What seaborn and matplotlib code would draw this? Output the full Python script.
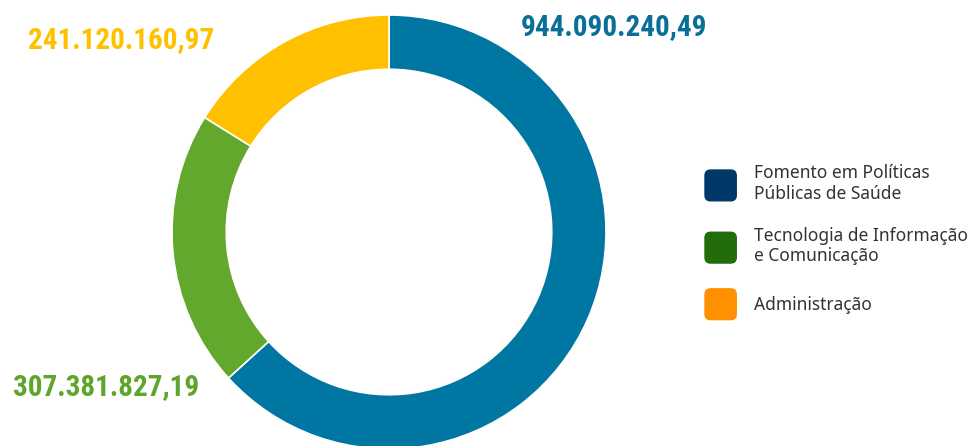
import matplotlib
matplotlib.use("Agg")
import matplotlib.pyplot as plt
import seaborn as sns
from matplotlib import font_manager
from matplotlib.patches import Patch, FancyBboxPatch
from matplotlib.legend_handler import HandlerPatch

# data
categories = ["Fomento em Políticas\nPúblicas de Saúde",
              "Tecnologia de Informação\ne Comunicação",
              "Administração"]
values = [944090240.49, 307381827.19, 241120160.97]
value_labels = ["944.090.240,49", "307.381.827,19", "241.120.160,97"]
slice_colors = ["#0077a2", "#62a82c", "#ffc000"]
legend_colors = ["#00386a", "#236c0a", "#ff9000"]
label_colors = ["#0a6f98", "#5fa52c", "#ffc000"]

sns.set_theme(style="white")

# pick a narrow bold font for the numbers if one is there
names = {f.name for f in font_manager.fontManager.ttflist}
narrow = None
for cand in ["Roboto Condensed", "Liberation Sans Narrow", "Open Sans Condensed", "Noto Sans Condensed"]:
    if cand in names:
        narrow = cand
        break
if narrow is None:
    num_font = dict(family="DejaVu Sans", fontstretch="condensed", fontweight="bold")
else:
    num_font = dict(family=narrow, fontweight="bold")

plt.rcParams['font.family'] = ['Noto Sans', 'DejaVu Sans']

fig = plt.figure(figsize=(9.7, 4.46), dpi=100)
# pie axes: center (389,232) px, radius 217 px
ax = fig.add_axes([(389 - 217) / 970, (214 - 217) / 446, 434 / 970, 434 / 446])
ax.pie(values, colors=slice_colors, startangle=90, counterclock=False,
       radius=1.0, wedgeprops=dict(width=0.25, edgecolor="white", linewidth=1.2))
ax.set_xlim(-1, 1)
ax.set_ylim(-1, 1)
ax.set_aspect("equal")
ax.axis("off")

# value labels (figure pixel positions)
label_pos = [(614, 419), (106, 59), (121, 406)]
for (x, y), txt, c in zip(label_pos, value_labels, label_colors):
    fig.text(x / 970, y / 446, txt, color=c, fontsize=21, ha="center", va="center", **num_font)


def rounded(legend, orig_handle, xdescent, ydescent, width, height, fontsize):
    return FancyBboxPatch((-xdescent, -ydescent), width, height,
                          boxstyle="round,pad=0,rounding_size=4")


handles = [Patch(facecolor=c, edgecolor=c) for c in legend_colors]
leg = fig.legend(handles, categories, loc="center left",
                 bbox_to_anchor=(705 / 970, 1 - 242 / 446),
                 frameon=False, fontsize=12.5, handlelength=1.8, handleheight=2.35,
                 handletextpad=1.0, labelspacing=1.35, borderaxespad=0, borderpad=0,
                 handler_map={Patch: HandlerPatch(patch_func=rounded)})
for t in leg.get_texts():
    t.set_color("#333333")
    t.set_linespacing(1.2)

fig.savefig("out.png", dpi=100)
